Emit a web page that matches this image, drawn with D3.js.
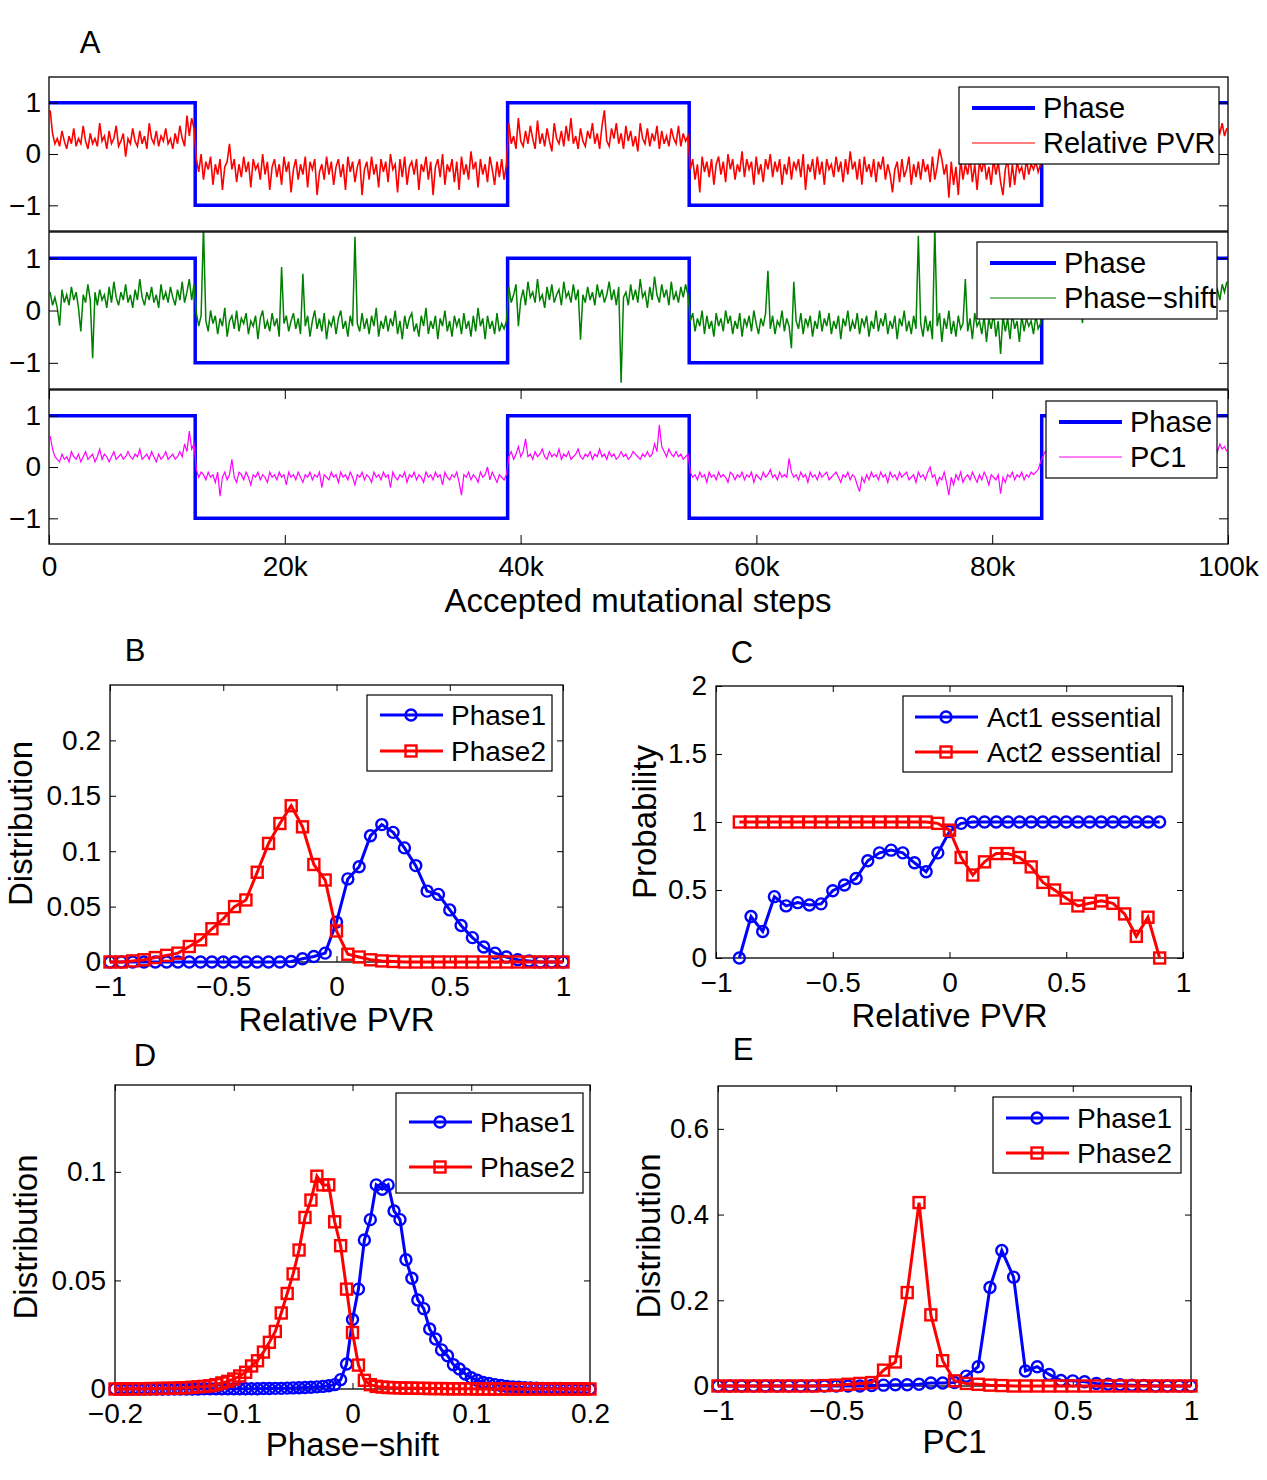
<!DOCTYPE html>
<html>
<meta charset="utf-8">
<head>
	<script src="https://d3js.org/d3.v7.min.js"></script>
	<style>
		body { margin: 0; background: #fff; }
		svg text { font-family: "Liberation Sans", Arial, Helvetica, sans-serif; fill: #000; }
		.tick text { font-size: 28px; }
		.lab { font-size: 33px; }
		.panel { font-size: 31px; }
		.legA { font-size: 29px; }
		.legB { font-size: 28px; }
		.frame { fill: none; stroke: #000; stroke-width: 1.3px; }
	</style>
</head>
<body>
<script>
// ---------- data: panel A (one array per phase segment) ----------
var phaseSteps = [0, 12400, 38900, 54300, 84200, 100000];
var phaseValues = [1, -1, 1, -1, 1];
var stepTicks = [0, 20000, 40000, 60000, 80000, 100000];

var pvrTrace = [
	[.85,.4,.2,.3,.15,.45,.25,.1,.35,.2, .5,.15,.3,.2,.55,.25,.1,.4,.2,.3,
	 .15,.6,.25,.35,.1,.45,.2,.3,.55,.15, .25,.4,-.05,.3,.2,.5,.25,.15,.45,.2,
	 .35,.1,.6,.3,.2,.45,.15,.35,.25,.5, .2,.3,.1,.4,.2,.55,.3,.15,.75,.35, .7,.5],
	[-.1,-.35,0,-.5,-.15,-.3,-.05,-.6,-.2,-.4, -.1,-.7,-.25,-.15,.2,-.3,-.1,-.55,-.2,-.45,
	 -.05,-.35,-.15,-.65,-.1,-.3,-.2,-.5,0,-.4, -.15,-.7,-.25,-.1,-.45,-.2,-.6,-.05,-.35,-.15,
	 -.75,-.3,-.1,-.5,-.2,-.4,-.05,-.65,-.15,-.3, -.1,-.8,-.35,-.2,-.5,-.05,-.4,-.15,-.6,-.25,
	 -.1,-.45,-.2,-.7,-.05,-.35,-.15,-.55,-.25,-.1, -.8,-.3,-.15,-.5,-.05,-.4,-.2,-.65,-.1,-.35,
	 -.15,-.55,0,-.3,-.2,-.75,-.1,-.45,-.05,-.6, -.25,-.15,-.4,-.1,-.7,-.2,-.35,-.05,-.5,-.15,
	 -.8,-.25,-.1,-.45,0,-.6,-.2,-.35,-.1,-.55, -.15,-.7,-.05,-.4,-.2,-.5,.05,-.3,-.15,-.65,
	 -.1,-.4,-.2,-.55,-.05,-.3,-.6,-.15,-.45,-.1, -.5,-.2],
	[.6,.2,.35,.1,.7,.25,.15,.45,.2,.55, .3,.1,.65,.2,.4,.15,.5,.25,.05,.6,
	 .3,.2,.45,.15,.55,.25,.7,.2,.35,.1, .5,.25,.15,.45,.3,.6,.2,.4,.1,.55,
	 .85,.25,.15,.5,.3,.6,.2,.4,.1,.55, .25,.45,.15,.35,.05,.6,.3,.2,.5,.15,
	 .4,.25,.55,.1,.45,.2,.35,.15,.5,.3, .2,.55,.15,.4,.25,.35],
	[-.3,-.1,-.5,-.2,-.75,-.05,-.35,-.15,-.45,-.1, -.6,-.2,-.05,-.4,-.15,-.55,0,-.3,-.1,-.5,
	 -.2,-.35,.05,-.45,-.1,-.3,-.15,-.6,-.05,-.4, -.2,-.55,-.1,-.3,0,-.45,-.15,-.35,-.1,-.6,
	 -.2,-.4,-.05,-.5,-.15,-.3,-.1,-.45,0,-.7, -.2,-.35,-.1,-.5,-.05,-.4,-.15,-.6,-.1,-.3,
	 -.2,-.45,-.05,-.35,-.15,-.55,-.1,-.4,.05,-.3, -.15,-.5,-.1,-.6,-.05,-.35,-.2,-.45,-.1,-.55,
	 -.15,-.3,-.05,-.5,-.2,-.4,-.75,-.3,-.15,-.55, -.1,-.45,-.3,-.05,-.6,-.2,-.45,-.15,-.5,-.1,
	 -.35,-.2,-.55,-.05,-.5,-.25,.1,-.1,-.4,-.2, -.85,-.15,-.6,-.25,-.8,-.1,-.5,-.2,-.4,-.05,
	 -.55,-.2,-.7,-.15,-.35,-.1,-.5,-.25,-.6,-.1, -.4,-.15,-.55,-.8,-.3,-.1,-.65,-.2,-.6,-.15,
	 -.35,-.25,-.5,-.1,-.4,-.2,-.3,-.15,-.35,-.2],
	[.45,.2,.6,.3,.15,.5,.25,.4,.1,.55, .3,.2,.45,.15,.6,.25,.35,.1,.5,.2,
	 .65,.3,.15,.45,.25,.55,.2,.4,.1,.5, .3,.2,.6,.15,.45,.25,.35,.2,.55,.1,
	 .4,.3,.2,.5,.15,.6,.25,.45,.2,.35, .15,.55,.3,.2,.45,.1,.5,.25,.4,.2,
	 .6,.3,.15,.5,.25,.45,.2,.55,.3,.4, .2,.6,.35,.5,.25,.55,.4,.6,.35,.5]
];

var shiftTrace = [
	[.35,.1,.25,.05,-.29,.4,.15,.3,.1,.45, .2,.35,.05,-.4,.3,.15,.5,.2,-.91,.35,
	 .1,.4,.2,.3,.05,.45,.15,.55,.25,.1, .35,.2,.5,.15,.3,.05,.4,.2,.6,.25,
	 .1,.35,.2,.45,.15,.3,.05,.5,.2,.35, .15,.45,.25,.1,.4,.2,.55,.15,.35,.6, .2,.5],
	[-.05,-.3,-.1,1.6,-.2,-.4,0,-.25,-.1,-.45, -.15,-.3,.05,-.5,-.2,-.1,-.35,0,-.4,-.15,
	 -.25,-.05,-.45,-.2,-.3,-.1,-.55,-.15,0,-.35, -.2,-.4,-.05,-.3,-.15,-.5,.83,-.25,-.1,-.4,
	 -.2,-.05,-.35,-.15,-.45,.7,-.3,-.1,-.5,-.2, 0,-.35,-.15,-.4,-.05,-.55,-.2,-.3,-.1,-.45,
	 -.15,0,-.35,-.2,-.5,-.1,-.3,1.41,-.25,-.4, -.05,-.35,-.15,-.45,-.1,-.3,.05,-.5,-.2,-.35,
	 -.1,-.4,-.15,-.3,0,-.45,-.2,-.55,-.1,-.35, -.15,-.05,-.4,-.25,-.5,-.1,-.3,.05,-.45,-.2,
	 -.35,-.1,-.55,-.15,-.3,0,-.4,-.2,-.5,-.1, -.3,-.15,-.45,-.05,-.35,-.2,-.5,-.1,-.4,.05,
	 -.3,-.15,-.55,-.1,-.35,-.2,-.45,-.05,-.4,-.25, -.35,-.2],
	[.45,.15,.3,.5,-.3,.2,.4,.1,.55,.25, .35,.15,.6,.2,.3,.05,.45,.2,.5,.15,
	 .3,.4,.1,.55,.25,.35,.15,.5,.2,.4, -.56,.3,.15,.45,.2,.35,.1,.5,.25,.4,
	 .15,.3,.55,.2,.4,.1,.45,-1.38,.25,.35, .1,.5,.2,.4,.15,.6,.25,.35,.05,.45,
	 .2,.65,.3,.15,.5,.25,.4,.1,.55,.2, .35,.15,.45,.25,.5,.3],
	[-.2,-.05,-.4,-.15,-.3,0,-.45,-.1,-.35,-.2, -.5,-.05,-.3,-.15,-.4,0,-.25,-.1,-.45,-.2,
	 -.35,-.05,-.5,-.15,-.3,-.1,-.4,0,-.25,-.45, -.15,-.3,-.05,.76,-.35,-.1,-.45,-.2,-.3,0,
	 -.4,-.15,-.3,-.72,.55,-.2,-.35,-.05,-.45,-.15, -.3,-.1,-.5,-.2,-.35,0,-.4,-.15,-.3,-.05,
	 -.45,-.2,-.35,-.1,-.55,-.15,-.3,0,-.4,-.2, -.35,-.05,-.45,-.15,-.3,-.1,-.5,-.2,-.35,0,
	 -.4,-.15,-.3,-.05,-.45,-.2,-.35,-.1,-.55,-.15, -.3,0,-.4,-.2,-.45,-.1,-.35,1.43,-.25,-.5,
	 -.1,-.4,-.2,-.55,1.6,-.3,-.05,-.6,-.15,-.35, 0,-.45,-.2,-.5,-.1,-.35,-.25,.6,-.4,-.15,
	 -.55,-.05,-.3,-.2,-.45,-.1,-.6,-.15,-.35,-.05, -.5,-.2,-.83,-.1,-.4,-.15,-.55,-.05,-.35,-.2,
	 -.6,-.1,-.4,-.15,-.3,-.2,-.45,-.1,-.35,-.25],
	[.3,.1,.45,.2,.35,.05,.5,.2,.4,.15, .3,.55,.2,.4,.1,.35,.25,-.24,.45,.15,
	 .35,.2,.5,.1,.4,.25,.55,.15,.3,.2, .45,.1,.35,.2,.5,.15,.4,.25,.6,.2,
	 .3,.1,.45,.2,.35,.15,.5,.25,.4,.1, .55,.2,.35,.15,.45,.25,.3,.1,.5,.2,
	 .4,.15,.6,.25,.35,.2,.45,.1,.5,.3, .2,.45,.25,.55,.3,.4,.2,.5,.35,.55]
];

var pc1Trace = [
	[.6,.35,.2,.15,.1,.25,.15,.2,.1,.3, .2,.15,.25,.1,.2,.3,.15,.2,.25,.1,
	 .2,.35,.15,.25,.2,.1,.2,.3,.15,.2, .25,.15,.2,.3,.2,.15,.25,.2,.35,.15,
	 .2,.25,.15,.3,.2,.1,.25,.15,.2,.3, .15,.2,.25,.15,.2,.3,.2,.45,.3,.7, .35,.45],
	[-.05,-.2,-.1,-.15,-.25,-.1,-.2,-.15,-.3,-.1, -.57,-.2,-.1,-.25,-.15,.15,-.2,-.3,-.1,-.15,
	 -.25,-.1,-.2,-.35,-.15,-.2,-.1,-.25,-.15,-.2, -.3,-.1,-.2,-.15,-.25,-.1,-.2,-.15,-.35,-.1,
	 -.2,-.15,-.25,-.1,-.2,-.3,-.15,-.2,-.1,-.25, -.15,-.2,-.1,-.4,-.15,-.2,-.25,-.1,-.2,-.15,
	 -.3,-.1,-.2,-.15,-.25,-.1,-.2,-.35,-.15,-.2, -.1,-.25,-.15,-.2,-.3,-.1,-.2,-.15,-.25,-.1,
	 -.2,-.15,-.4,-.1,-.2,-.25,-.15,-.2,-.1,-.3, -.15,-.2,-.1,-.25,-.15,-.2,-.3,-.1,-.2,-.15,
	 -.25,-.1,-.2,-.15,-.35,-.1,-.2,-.25,-.15,-.2, -.1,-.3,-.55,-.15,-.2,-.1,-.25,-.15,-.2,-.3,
	 -.1,-.2,-.15,0,-.25,-.1,-.2,-.3,-.15,-.2, -.25,-.15],
	[.2,.3,.15,.25,.4,.2,.3,.55,.2,.25, .15,.3,.2,.25,.35,.2,.15,.3,.2,.25,
	 .2,.35,.15,.25,.2,.3,.15,.2,.25,.35, .2,.15,.25,.2,.3,.15,.25,.2,.35,.2,
	 .25,.15,.3,.2,.25,.15,.2,.3,.2,.25, .15,.2,.3,.25,.2,.15,.25,.2,.3,.2,
	 .25,.45,.3,.82,.4,.3,.2,.35,.25,.2, .3,.2,.25,.15,.2,.25],
	[-.1,-.2,-.15,-.25,-.1,-.2,-.15,-.3,-.1,-.2, -.15,-.25,-.1,-.2,-.15,-.2,-.3,-.1,-.15,-.25,
	 -.15,-.2,-.1,-.25,-.15,-.2,-.1,-.3,-.15,-.2, -.25,-.1,-.2,-.15,-.05,-.2,-.15,-.25,-.1,-.2,
	 -.15,-.2,.17,-.1,-.2,-.15,-.25,-.1,-.2,-.15, -.3,-.1,-.2,-.15,-.25,-.1,-.2,-.15,-.1,-.25,
	 -.2,-.15,-.1,-.2,-.3,-.15,-.2,-.1,-.25,-.15, -.2,-.35,-.48,-.2,-.3,-.15,-.25,-.1,-.2,-.15,
	 -.25,-.1,-.2,-.15,-.3,-.1,-.2,-.15,-.25,-.1, -.2,-.15,-.1,-.25,-.2,-.15,-.3,-.1,-.2,-.15,
	 -.25,-.1,0,-.2,-.15,-.35,-.2,-.25,-.1,-.3, -.55,-.2,-.35,-.15,-.25,-.1,-.3,-.2,-.15,-.25,
	 -.1,-.2,-.3,-.15,-.25,-.1,-.2,-.35,-.15,-.2, -.25,-.15,-.52,-.2,-.3,-.15,-.2,-.1,-.25,-.15,
	 -.2,-.1,-.25,-.15,-.2,-.1,-.15,-.1,-.05,.1],
	[.2,.3,.25,.35,.2,.3,.25,.4,.2,.3, .25,.35,.2,.3,.25,.2,.35,.25,.3,.2,
	 .3,.25,.35,.2,.3,.25,.4,.2,.3,.25, .35,.2,.3,.25,.2,.35,.25,.3,.2,.3,
	 .25,.35,.2,.3,.25,.4,.2,.3,.25,.35, .2,.3,.25,.35,.2,.3,.25,.2,.35,.25,
	 .3,.2,.4,.25,.3,.2,.35,.25,.3,.45, .3,.4,.25,.35,.5,.3,.45,.35,.4,.3]
];

// ---------- data: panel B (Relative PVR distribution) ----------
var pvrBins = [-1,-.95,-.9,-.85,-.8,-.75,-.7,-.65,-.6,-.55,-.5,-.45,-.4,-.35,-.3,-.25,-.2,-.15,-.1,-.05,
	0,.05,.1,.15,.2,.25,.3,.35,.4,.45,.5,.55,.6,.65,.7,.75,.8,.85,.9,.95,1];
var pvrPhase1 = [0,0,0,0,0,0,0,0,0,0,0,0,0,0,0,0,.0005,.003,.005,.008,
	.036,.075,.086,.114,.124,.117,.103,.087,.064,.061,.047,.033,.022,.0135,.008,.0045,.002,.001,0,0,0];
var pvrPhase2 = [0,0,.001,.002,.004,.006,.008,.014,.02,.03,.039,.05,.056,.081,.107,.125,.141,.122,.088,.074,
	.028,.007,.0045,.002,.001,.0005,0,0,0,0,0,0,0,0,0,0,0,0,0,0,0];

// ---------- data: panel C (essentiality) ----------
var essBins = [-.9,-.85,-.8,-.75,-.7,-.65,-.6,-.55,-.5,-.45,-.4,-.35,-.3,-.25,-.2,-.15,-.1,-.05,
	0,.05,.1,.15,.2,.25,.3,.35,.4,.45,.5,.55,.6,.65,.7,.75,.8,.85,.9];
var act1Ess = [0,.305,.195,.451,.383,.407,.39,.398,.495,.537,.585,.715,.773,.793,.773,.70,.634,.773,
	.93,.99,1,1,1,1,1,1,1,1,1,1,1,1,1,1,1,1,1];
var act2Ess = [1,1,1,1,1,1,1,1,1,1,1,1,1,1,1,1,1,.99,
	.94,.739,.61,.707,.768,.768,.739,.67,.556,.5,.44,.383,.402,.42,.402,.324,.159,.3,0];

// ---------- data: panel D (phase-shift distribution) ----------
var shiftBins = [-.2,-.195,-.19,-.185,-.18,-.175,-.17,-.165,-.16,-.155,-.15,-.145,-.14,-.135,-.13,-.125,-.12,-.115,-.11,-.105,
	-.1,-.095,-.09,-.085,-.08,-.075,-.07,-.065,-.06,-.055,-.05,-.045,-.04,-.035,-.03,-.025,-.02,-.015,-.01,-.005,
	0,.005,.01,.015,.02,.025,.03,.035,.04,.045,.05,.055,.06,.065,.07,.075,.08,.085,.09,.095,
	.1,.105,.11,.115,.12,.125,.13,.135,.14,.145,.15,.155,.16,.165,.17,.175,.18,.185,.19,.195,.2];
var shiftPhase1 = [0,0,0,0,0,0,0,0,0,0,0,0,0,0,0,.0001,.0001,.0001,.0001,.0001,
	.0001,.0001,.0001,.0001,.0001,.0002,.0002,.0003,.0003,.0004,.0005,.0006,.0007,.0008,.001,.0012,.0015,.002,.0043,.0115,
	.032,.046,.0686,.078,.094,.092,.094,.082,.078,.0595,.051,.041,.037,.0276,.023,.018,.0153,.0112,.0092,.0069,
	.0052,.004,.003,.0025,.002,.0016,.0012,.001,.0008,.0006,.0005,.0004,.0003,.0003,.0002,.0002,.0001,.0001,.0001,0,0];
var shiftPhase2 = [0,0,0,.0001,.0001,.0001,.0002,.0002,.0003,.0003,.0004,.0005,.0006,.0008,.001,.0012,.0015,.002,.0028,.0035,
	.0046,.006,.0077,.0106,.013,.017,.0215,.0265,.035,.044,.053,.064,.079,.087,.098,.094,.094,.077,.066,.046,
	.026,.011,.004,.002,.0012,.0009,.0007,.0006,.0005,.0004,.0004,.0003,.0003,.0002,.0002,.0002,.0001,.0001,.0001,.0001,
	.0001,0,0,0,0,0,0,0,0,0,0,0,0,0,0,0,0,0,0,0,0];

// ---------- data: panel E (PC1 distribution) ----------
var pc1Bins = pvrBins;
var pc1Phase1 = [0,0,0,0,0,0,0,0,0,0,0,0,0,.001,.002,.003,.003,.004,.007,.007,
	.008,.023,.045,.23,.316,.254,.035,.045,.027,.013,.012,.01,.006,.004,.003,.002,.001,0,0,0,0];
var pc1Phase2 = [0,0,0,0,0,0,0,0,0,.001,.002,.004,.006,.008,.037,.056,.218,.428,.166,.059,
	.012,.006,.004,.002,.001,0,0,0,0,0,0,0,0,0,0,0,0,0,0,0,0];

// ---------- drawing ----------
var width = 1267, height = 1480;
var svg = d3.select("body").append("svg")
	.attr("width", width)
	.attr("height", height);

var fmt = d3.format("~g");

function cleanAxis(g) {
	g.select(".domain").remove();
	g.attr("font-size", null).attr("font-family", null);
}

// panel A
var xA = d3.scaleLinear().domain([0, 100000]).range([49, 1228]);
var subplots = [
	{top: 77, bottom: 231, trace: pvrTrace, color: "#ff0000", width: 1.6, name: "Relative PVR", xTicks: false,
	 leg: {x: 959, y: 87, w: 260, h: 77, y1: 108, y2: 143, l0: 972, l1: 1035, tx: 1043}},
	{top: 232, bottom: 389, trace: shiftTrace, color: "#008000", width: 1.5, name: "Phase\u2212shift", xTicks: false,
	 leg: {x: 977, y: 242, w: 240, h: 77, y1: 263, y2: 298, l0: 990, l1: 1056, tx: 1064}},
	{top: 390, bottom: 544, trace: pc1Trace, color: "#ff00ff", width: 1.2, name: "PC1", xTicks: true,
	 leg: {x: 1046, y: 401, w: 171, h: 77, y1: 422, y2: 457, l0: 1059, l1: 1122, tx: 1130}}
];

subplots.forEach(function(sp, k) {
	var y = d3.scaleLinear().domain([-1.5, 1.5]).range([sp.bottom, sp.top]);
	var g = svg.append("g");

	g.append("clipPath").attr("id", "clipA" + k)
		.append("rect")
		.attr("x", xA(0)).attr("y", sp.top)
		.attr("width", xA(100000) - xA(0)).attr("height", sp.bottom - sp.top);

	var plot = g.append("g").attr("clip-path", "url(#clipA" + k + ")");

	// phase square wave
	var phasePts = phaseValues.map(function(v, i) { return {t: phaseSteps[i], v: v}; });
	phasePts.push({t: phaseSteps[phaseSteps.length - 1], v: phaseValues[phaseValues.length - 1]});
	plot.append("path")
		.datum(phasePts)
		.attr("fill", "none")
		.attr("stroke", "#0000ff")
		.attr("stroke-width", 3.5)
		.attr("d", d3.line().curve(d3.curveStepAfter)
			.x(function(d) { return xA(d.t); })
			.y(function(d) { return y(d.v); }));

	// noisy trace, segment by segment
	var pts = [];
	sp.trace.forEach(function(seg, s) {
		var s0 = phaseSteps[s], s1 = phaseSteps[s + 1];
		seg.forEach(function(v, j) {
			pts.push({t: s0 + (j + 0.5) * (s1 - s0) / seg.length, v: v});
		});
	});
	plot.append("path")
		.datum(pts)
		.attr("fill", "none")
		.attr("stroke", sp.color)
		.attr("stroke-width", sp.width)
		.attr("stroke-linejoin", "miter")
		.attr("d", d3.line()
			.x(function(d) { return xA(d.t); })
			.y(function(d) { return y(d.v); }));

	// axes
	g.append("g")
		.attr("transform", "translate(" + xA(0) + ",0)")
		.call(d3.axisLeft(y).tickValues([-1, 0, 1]).tickSizeInner(-9).tickSizeOuter(0).tickPadding(8).tickFormat(fmt))
		.call(cleanAxis);
	g.append("g")
		.attr("transform", "translate(" + xA(100000) + ",0)")
		.call(d3.axisRight(y).tickValues([-1, 0, 1]).tickSizeInner(-9).tickSizeOuter(0).tickFormat(""))
		.call(cleanAxis);
	if (sp.xTicks) {
		g.append("g")
			.attr("transform", "translate(0," + sp.bottom + ")")
			.call(d3.axisBottom(xA).tickValues(stepTicks).tickSizeInner(-9).tickSizeOuter(0).tickPadding(12)
				.tickFormat(function(d) { return d === 0 ? "0" : (d / 1000) + "k"; }))
			.call(cleanAxis);
		g.append("g")
			.attr("transform", "translate(0," + sp.top + ")")
			.call(d3.axisTop(xA).tickValues(stepTicks).tickSizeInner(-9).tickSizeOuter(0).tickFormat(""))
			.call(cleanAxis);
	}

	g.append("rect").attr("class", "frame")
		.attr("x", xA(0)).attr("y", sp.top)
		.attr("width", xA(100000) - xA(0)).attr("height", sp.bottom - sp.top);

	// legend
	var L = sp.leg;
	var lg = g.append("g");
	lg.append("rect").attr("x", L.x).attr("y", L.y).attr("width", L.w).attr("height", L.h)
		.attr("fill", "#fff").attr("stroke", "#000").attr("stroke-width", 1.2);
	lg.append("line").attr("x1", L.l0).attr("x2", L.l1).attr("y1", L.y1).attr("y2", L.y1)
		.attr("stroke", "#0000ff").attr("stroke-width", 4);
	lg.append("line").attr("x1", L.l0).attr("x2", L.l1).attr("y1", L.y2).attr("y2", L.y2)
		.attr("stroke", sp.color).attr("stroke-width", 1.1);
	lg.append("text").attr("class", "legA").attr("x", L.tx).attr("y", L.y1).attr("dy", "0.36em").text("Phase");
	lg.append("text").attr("class", "legA").attr("x", L.tx).attr("y", L.y2).attr("dy", "0.36em").text(sp.name);
});

svg.append("text").attr("class", "lab").attr("x", 638).attr("y", 612)
	.attr("text-anchor", "middle").text("Accepted mutational steps");
svg.append("text").attr("class", "panel").attr("x", 90).attr("y", 53)
	.attr("text-anchor", "middle").text("A");

// panels B-E
function marker(sel, type, color) {
	if (type === "circle") {
		sel.append("circle").attr("r", 5.5)
			.attr("fill", "none").attr("stroke", color).attr("stroke-width", 2.4);
	} else {
		sel.append("rect").attr("x", -5.5).attr("y", -5.5).attr("width", 11).attr("height", 11)
			.attr("fill", "none").attr("stroke", color).attr("stroke-width", 2.4);
	}
}

function distPanel(c) {
	var x = d3.scaleLinear().domain(c.xDomain).range([c.left, c.right]);
	var y = d3.scaleLinear().domain(c.yDomain).range([c.bottom, c.top]);
	var g = svg.append("g");

	g.append("g").attr("transform", "translate(0," + c.bottom + ")")
		.call(d3.axisBottom(x).tickValues(c.xTicks).tickSizeInner(-6).tickSizeOuter(0).tickPadding(14).tickFormat(fmt))
		.call(cleanAxis);
	g.append("g").attr("transform", "translate(0," + c.top + ")")
		.call(d3.axisTop(x).tickValues(c.xTicks).tickSizeInner(-6).tickSizeOuter(0).tickFormat(""))
		.call(cleanAxis);
	g.append("g").attr("transform", "translate(" + c.left + ",0)")
		.call(d3.axisLeft(y).tickValues(c.yTicks).tickSizeInner(-6).tickSizeOuter(0).tickPadding(9).tickFormat(fmt))
		.call(cleanAxis);
	g.append("g").attr("transform", "translate(" + c.right + ",0)")
		.call(d3.axisRight(y).tickValues(c.yTicks).tickSizeInner(-6).tickSizeOuter(0).tickFormat(""))
		.call(cleanAxis);
	g.append("rect").attr("class", "frame")
		.attr("x", c.left).attr("y", c.top)
		.attr("width", c.right - c.left).attr("height", c.bottom - c.top);

	c.series.forEach(function(s) {
		var pts = s.values.map(function(v, i) { return [x(c.bins[i]), y(v)]; });
		g.append("path").attr("d", d3.line()(pts))
			.attr("fill", "none").attr("stroke", s.color).attr("stroke-width", 3);
		g.selectAll(null).data(pts).enter().append("g")
			.attr("transform", function(p) { return "translate(" + p[0] + "," + p[1] + ")"; })
			.each(function() { marker(d3.select(this), s.marker, s.color); });
	});

	// legend
	var L = c.leg;
	g.append("rect").attr("x", L.x).attr("y", L.y).attr("width", L.w).attr("height", L.h)
		.attr("fill", "#fff").attr("stroke", "#000").attr("stroke-width", 1.2);
	c.series.forEach(function(s, i) {
		var yy = L.rows[i];
		g.append("line").attr("x1", L.l0).attr("x2", L.l1).attr("y1", yy).attr("y2", yy)
			.attr("stroke", s.color).attr("stroke-width", 3);
		marker(g.append("g").attr("transform", "translate(" + L.m + "," + yy + ")"), s.marker, s.color);
		g.append("text").attr("class", "legB").attr("x", L.tx).attr("y", yy).attr("dy", "0.36em").text(s.name);
	});

	// labels
	g.append("text").attr("class", "lab").attr("text-anchor", "middle")
		.attr("x", (c.left + c.right) / 2).attr("y", c.xLabelY).text(c.xLabel);
	g.append("text").attr("class", "lab").attr("text-anchor", "middle")
		.attr("transform", "translate(" + c.yLabelX + "," + (c.top + c.bottom) / 2 + ") rotate(-90)")
		.text(c.yLabel);
	g.append("text").attr("class", "panel").attr("text-anchor", "middle")
		.attr("x", c.letterX).attr("y", c.letterY).text(c.letter);
}

distPanel({
	left: 110, right: 563, top: 685, bottom: 962,
	xDomain: [-1, 1], yDomain: [0, 0.25],
	xTicks: [-1, -0.5, 0, 0.5, 1], yTicks: [0, 0.05, 0.1, 0.15, 0.2],
	bins: pvrBins,
	series: [
		{name: "Phase1", values: pvrPhase1, color: "#0000ff", marker: "circle"},
		{name: "Phase2", values: pvrPhase2, color: "#ff0000", marker: "square"}
	],
	leg: {x: 367, y: 695, w: 185, h: 76, rows: [715, 751], l0: 380, l1: 443, m: 411, tx: 451},
	xLabel: "Relative PVR", xLabelY: 1031, yLabel: "Distribution", yLabelX: 32,
	letter: "B", letterX: 135, letterY: 661
});

distPanel({
	left: 716, right: 1183, top: 686, bottom: 958,
	xDomain: [-1, 1], yDomain: [0, 2],
	xTicks: [-1, -0.5, 0, 0.5, 1], yTicks: [0, 0.5, 1, 1.5, 2],
	bins: essBins,
	series: [
		{name: "Act1 essential", values: act1Ess, color: "#0000ff", marker: "circle"},
		{name: "Act2 essential", values: act2Ess, color: "#ff0000", marker: "square"}
	],
	leg: {x: 903, y: 696, w: 269, h: 76, rows: [717, 752], l0: 915, l1: 978, m: 946, tx: 987},
	xLabel: "Relative PVR", xLabelY: 1027, yLabel: "Probability", yLabelX: 656,
	letter: "C", letterX: 742, letterY: 663
});

distPanel({
	left: 115, right: 590, top: 1085, bottom: 1389,
	xDomain: [-0.2, 0.2], yDomain: [0, 0.14],
	xTicks: [-0.2, -0.1, 0, 0.1, 0.2], yTicks: [0, 0.05, 0.1],
	bins: shiftBins,
	series: [
		{name: "Phase1", values: shiftPhase1, color: "#0000ff", marker: "circle"},
		{name: "Phase2", values: shiftPhase2, color: "#ff0000", marker: "square"}
	],
	leg: {x: 396, y: 1093, w: 187, h: 100, rows: [1122, 1167], l0: 409, l1: 472, m: 440, tx: 480},
	xLabel: "Phase\u2212shift", xLabelY: 1456, yLabel: "Distribution", yLabelX: 37,
	letter: "D", letterX: 145, letterY: 1066
});

distPanel({
	left: 718, right: 1191, top: 1086, bottom: 1386,
	xDomain: [-1, 1], yDomain: [0, 0.7],
	xTicks: [-1, -0.5, 0, 0.5, 1], yTicks: [0, 0.2, 0.4, 0.6],
	bins: pc1Bins,
	series: [
		{name: "Phase1", values: pc1Phase1, color: "#0000ff", marker: "circle"},
		{name: "Phase2", values: pc1Phase2, color: "#ff0000", marker: "square"}
	],
	leg: {x: 993, y: 1097, w: 188, h: 76, rows: [1118, 1153], l0: 1006, l1: 1069, m: 1037, tx: 1077},
	xLabel: "PC1", xLabelY: 1453, yLabel: "Distribution", yLabelX: 660,
	letter: "E", letterX: 743, letterY: 1060
});
</script>
</body>
</html>
